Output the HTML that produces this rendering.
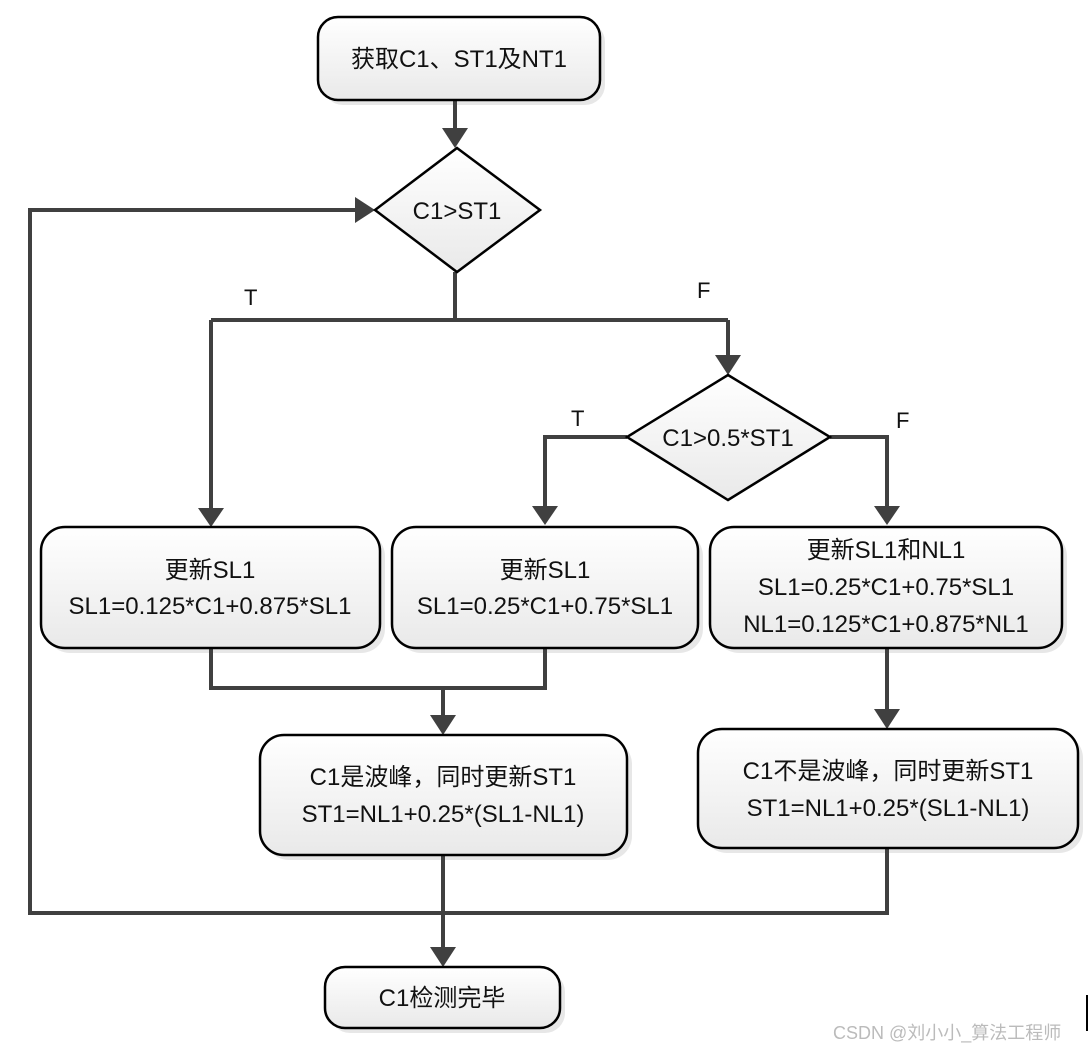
<!DOCTYPE html>
<html><head><meta charset="utf-8"><style>
html,body{margin:0;padding:0;background:#fff;width:1090px;height:1051px;overflow:hidden}
text{font-family:"Liberation Sans","Noto Sans CJK SC",sans-serif;fill:#111}
</style></head><body>
<svg width="1090" height="1051" viewBox="0 0 1090 1051" xmlns="http://www.w3.org/2000/svg">
<defs>
<linearGradient id="g" x1="0" y1="0" x2="0" y2="1"><stop offset="0" stop-color="#ffffff"/><stop offset="1" stop-color="#e9e9e9"/></linearGradient>
<marker id="a" markerWidth="8" markerHeight="8" refX="7" refY="4" orient="auto" markerUnits="userSpaceOnUse" viewBox="0 0 8 8"><path d="M0,0 L8,4 L0,8 Z" fill="#404040"/></marker>
</defs>
<g fill="#ddd" opacity="0.7">
<rect x="323" y="22" width="282" height="83" rx="20"/>
<rect x="46" y="532" width="339" height="121" rx="24"/>
<rect x="397" y="532" width="306" height="121" rx="24"/>
<rect x="715" y="532" width="352" height="121" rx="24"/>
<rect x="265" y="740" width="367" height="120" rx="24"/>
<rect x="703" y="734" width="380" height="119" rx="24"/>
<rect x="330" y="972" width="235" height="61" rx="20"/>
</g>
<g stroke="#404040" stroke-width="4" fill="none">
<path d="M455 100 V130"/>
<path d="M455 272 V320 M211 320 H728"/>
<path d="M211 320 V510"/>
<path d="M728 320 V357"/>
<path d="M627 437 H545 V508"/>
<path d="M830 437 H887 V508"/>
<path d="M211 648 V688 H545 V648"/>
<path d="M443 688 V717"/>
<path d="M887 648 V711"/>
<path d="M443 855 V949"/>
<path d="M887 848 V913 H30 V210 H357"/>
</g>
<g fill="#404040">
<path d="M442 128 L468 128 L455 148 Z"/>
<path d="M198 508 L224 508 L211 527 Z"/>
<path d="M715 355 L741 355 L728 375 Z"/>
<path d="M532 506 L558 506 L545 525 Z"/>
<path d="M874 506 L900 506 L887 525 Z"/>
<path d="M430 715 L456 715 L443 735 Z"/>
<path d="M874 709 L900 709 L887 729 Z"/>
<path d="M430 947 L456 947 L443 967 Z"/>
<path d="M355 197 L355 223 L375 210 Z"/>
</g>
<g stroke="#000" stroke-width="2.5" fill="url(#g)">
<rect x="318" y="17" width="282" height="83" rx="20"/>
<path d="M457 148 L540 210 L457 272 L375 210 Z"/>
<path d="M728 375 L830 437 L728 500 L627 437 Z"/>
<rect x="41" y="527" width="339" height="121" rx="24"/>
<rect x="392" y="527" width="306" height="121" rx="24"/>
<rect x="710" y="527" width="352" height="121" rx="24"/>
<rect x="260" y="735" width="367" height="120" rx="24"/>
<rect x="698" y="729" width="380" height="119" rx="24"/>
<rect x="325" y="967" width="235" height="61" rx="20"/>
</g>
<g font-size="24" text-anchor="middle">
<text x="459" y="67">获取C1、ST1及NT1</text>
<text x="457" y="219">C1&gt;ST1</text>
<text x="728" y="446">C1&gt;0.5*ST1</text>
<text x="210" y="578">更新SL1</text>
<text x="210" y="614">SL1=0.125*C1+0.875*SL1</text>
<text x="545" y="578">更新SL1</text>
<text x="545" y="614">SL1=0.25*C1+0.75*SL1</text>
<text x="886" y="558">更新SL1和NL1</text>
<text x="886" y="595">SL1=0.25*C1+0.75*SL1</text>
<text x="886" y="632">NL1=0.125*C1+0.875*NL1</text>
<text x="443" y="785">C1是波峰，同时更新ST1</text>
<text x="443" y="822">ST1=NL1+0.25*(SL1-NL1)</text>
<text x="888" y="779">C1不是波峰，同时更新ST1</text>
<text x="888" y="816">ST1=NL1+0.25*(SL1-NL1)</text>
<text x="442" y="1006">C1检测完毕</text>
</g>
<g font-size="22">
<text x="244" y="305">T</text>
<text x="697" y="298">F</text>
<text x="571" y="426">T</text>
<text x="896" y="428">F</text>
</g>
<text x="833" y="1039" font-size="18" style="fill:#bbb">CSDN @刘小小_算法工程师</text>
<rect x="1086" y="995" width="2" height="36" fill="#000"/>
</svg>
</body></html>
